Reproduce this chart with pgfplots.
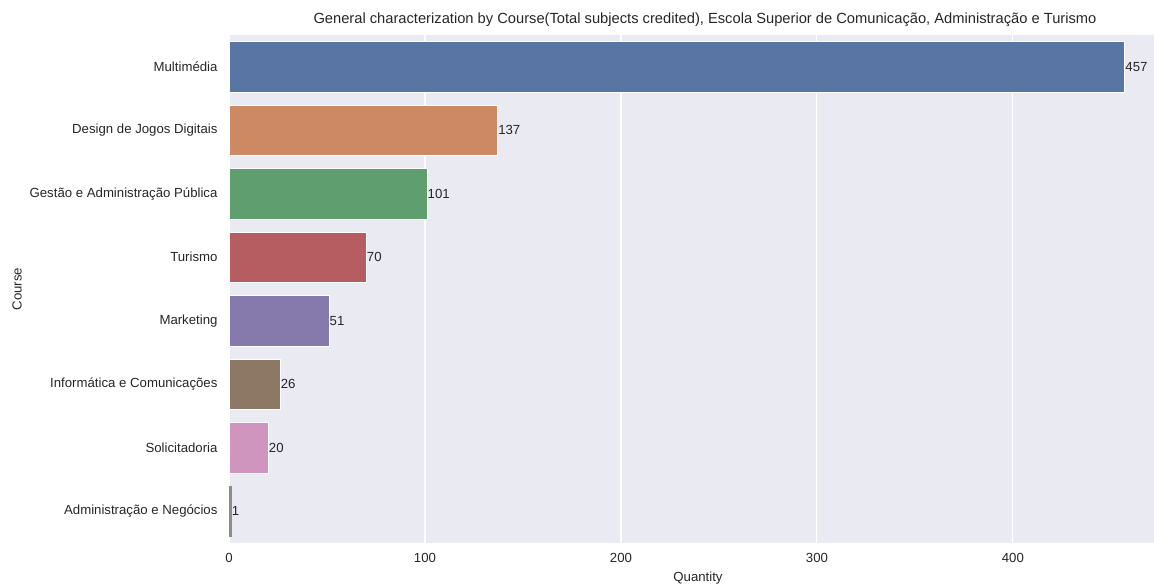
\documentclass[border=0pt]{standalone}
\usepackage{fontspec}
\setmainfont{Liberation Sans}
\usepackage{pgfplots}
\pgfplotsset{compat=1.18}
\definecolor{bg}{HTML}{EAEAF2}
\definecolor{lbl}{HTML}{262626}
\definecolor{c1}{HTML}{5975A4}
\definecolor{c2}{HTML}{CC8963}
\definecolor{c3}{HTML}{5F9E6E}
\definecolor{c4}{HTML}{B55D60}
\definecolor{c5}{HTML}{857AAB}
\definecolor{c6}{HTML}{8D7866}
\definecolor{c7}{HTML}{D095BF}
\definecolor{c8}{HTML}{8C8C8C}
\begin{document}
\begin{tikzpicture}[x=1pt,y=1pt]
\path[use as bounding box] (0,0) rectangle (1154,584);
\begin{axis}[
  at={(229pt,41pt)}, anchor=south west,
  width=925pt, height=508pt, scale only axis,
  xmin=0, xmax=472, ymin=-0.5, ymax=7.5, y dir=reverse,
  xbar, bar shift=0pt, bar width=0.8,
  axis background/.style={fill=bg},
  axis line style={draw=none},
  xmajorgrids, grid style={white, line width=1.1pt},
  major tick length=0pt,
  xtick={0,100,200,300,400},
  ytick={0,1,2,3,4,5,6,7},
  yticklabels={Multimédia,Design de Jogos Digitais,Gestão e Administração Pública,Turismo,Marketing,Informática e Comunicações,Solicitadoria,Administração e Negócios},
  tick label style={font=\fontsize{13.2}{15}\selectfont, text=lbl},
  /pgf/number format/assume math mode=true,
  xticklabel style={yshift=-7pt},
  yticklabel style={xshift=-8pt},
  xlabel={Quantity}, ylabel={Course},
  label style={font=\fontsize{13.2}{15}\selectfont, text=lbl},
  xlabel style={at={(rel axis cs:0.5,0)}, anchor=center, yshift=-35pt, xshift=6.5pt},
  ylabel style={at={(rel axis cs:0,0.5)}, anchor=center, yshift=212pt},
  nodes near coords,
  nodes near coords style={anchor=west, inner xsep=0.5pt, font=\fontsize{13.2}{15}\selectfont, text=lbl},
  every axis plot/.append style={draw=white, line width=0.6pt},
]
\addplot[fill=c1] coordinates {(457,0)};
\addplot[fill=c2] coordinates {(137,1)};
\addplot[fill=c3] coordinates {(101,2)};
\addplot[fill=c4] coordinates {(70,3)};
\addplot[fill=c5] coordinates {(51,4)};
\addplot[fill=c6] coordinates {(26,5)};
\addplot[fill=c7] coordinates {(20,6)};
\addplot[fill=c8, draw=c8] coordinates {(1,7)};
\end{axis}
\node[font=\fontsize{14.7}{17}\selectfont, text=lbl] at (705,564) {General characterization by Course(Total subjects credited), Escola Superior de Comunicação, Administração e Turismo};
\end{tikzpicture}
\end{document}
